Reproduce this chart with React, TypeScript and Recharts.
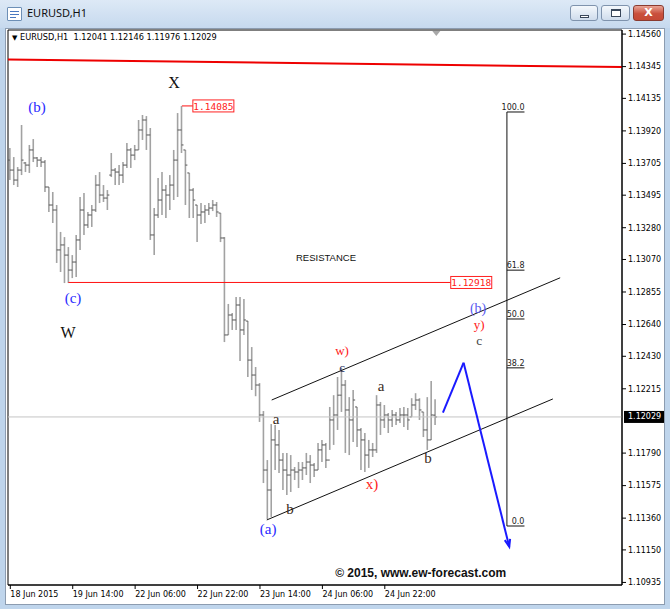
import React from 'react';
import { ComposedChart, Bar, XAxis, YAxis, ReferenceLine, ReferenceDot, ReferenceArea } from 'recharts';

// ---- EURUSD H1 bars (18 Jun 22:00 .. 25 Jun 11:00) ----
const opens = [
  1.13727, 1.13661, 1.13595, 1.13661, 1.13708, 1.13694, 1.13794, 1.13741, 1.13727, 1.13714,
  1.13549, 1.13430, 1.13397, 1.13133, 1.13166, 1.13099, 1.13000, 1.13053, 1.13199, 1.13397,
  1.13298, 1.13364, 1.13397, 1.13562, 1.13496, 1.13476, 1.13628, 1.13661, 1.13648, 1.13628,
  1.13694, 1.13794, 1.13760, 1.13794, 1.13926, 1.13992, 1.13893, 1.13232, 1.13364, 1.13463,
  1.13529, 1.13496, 1.13562, 1.13727, 1.13926, 1.13794, 1.13642, 1.13529, 1.13430, 1.13364,
  1.13384, 1.13397, 1.13410, 1.13430, 1.13377, 1.13212, 1.12571, 1.12703, 1.12670, 1.12769,
  1.12604, 1.12663, 1.12405, 1.12306, 1.12240, 1.12042, 1.11678, 1.11546, 1.11877, 1.11844,
  1.11744, 1.11678, 1.11645, 1.11678, 1.11665, 1.11678, 1.11692, 1.11731, 1.11711, 1.11678,
  1.11811, 1.11844, 1.11744, 1.12009, 1.12042, 1.12173, 1.12240, 1.12075, 1.12009, 1.12095,
  1.11943, 1.11877, 1.11777, 1.11811, 1.11811, 1.12108, 1.12009, 1.12042, 1.12009, 1.12042,
  1.12009, 1.12042, 1.12042, 1.12029, 1.12108, 1.12141, 1.12062, 1.11943, 1.11877, 1.12041,
];
const highs = [
  1.13807, 1.13747, 1.13681, 1.13959, 1.13714, 1.13827, 1.13866, 1.13747, 1.13747, 1.13727,
  1.13549, 1.13516, 1.13430, 1.13252, 1.13218, 1.13152, 1.13099, 1.13232, 1.13483, 1.13509,
  1.13384, 1.13430, 1.13628, 1.13648, 1.13562, 1.13529, 1.13774, 1.13675, 1.13694, 1.13714,
  1.13840, 1.13807, 1.13827, 1.13992, 1.14025, 1.14018, 1.13939, 1.13410, 1.13608, 1.13648,
  1.13562, 1.13628, 1.13794, 1.14038, 1.14085, 1.13794, 1.13642, 1.13542, 1.13430, 1.13443,
  1.13430, 1.13443, 1.13463, 1.13450, 1.13377, 1.13218, 1.12776, 1.12716, 1.12822, 1.12822,
  1.12809, 1.12663, 1.12491, 1.12359, 1.12253, 1.12068, 1.11744, 1.11982, 1.11976, 1.11943,
  1.11791, 1.11791, 1.11777, 1.11698, 1.11731, 1.11731, 1.11791, 1.11777, 1.11725, 1.11857,
  1.11877, 1.11857, 1.12095, 1.12173, 1.12293, 1.12353, 1.12273, 1.12160, 1.12207, 1.12095,
  1.11956, 1.11923, 1.11877, 1.11857, 1.12173, 1.12128, 1.12108, 1.12055, 1.12075, 1.12062,
  1.12088, 1.12095, 1.12088, 1.12153, 1.12186, 1.12153, 1.12062, 1.12160, 1.12267, 1.12146,
];
const lows = [
  1.13595, 1.13562, 1.13549, 1.13628, 1.13648, 1.13642, 1.13714, 1.13681, 1.13681, 1.13516,
  1.13384, 1.13311, 1.13047, 1.12987, 1.12914, 1.12914, 1.12947, 1.12954, 1.13133, 1.13232,
  1.13278, 1.13285, 1.13384, 1.13443, 1.13450, 1.13397, 1.13615, 1.13562, 1.13562, 1.13575,
  1.13675, 1.13675, 1.13727, 1.13794, 1.13860, 1.13794, 1.13199, 1.13099, 1.13344, 1.13364,
  1.13344, 1.13397, 1.13463, 1.13483, 1.13774, 1.13430, 1.13344, 1.13344, 1.13185, 1.13304,
  1.13311, 1.13364, 1.13390, 1.13351, 1.13185, 1.12524, 1.12571, 1.12604, 1.12604, 1.12399,
  1.12571, 1.12293, 1.12207, 1.12166, 1.11996, 1.11592, 1.11354, 1.11368, 1.11678, 1.11659,
  1.11546, 1.11513, 1.11533, 1.11612, 1.11559, 1.11612, 1.11645, 1.11592, 1.11632, 1.11678,
  1.11731, 1.11692, 1.11811, 1.11844, 1.11943, 1.12062, 1.11791, 1.11777, 1.11863, 1.11830,
  1.11678, 1.11665, 1.11692, 1.11764, 1.11791, 1.11910, 1.11956, 1.11923, 1.11963, 1.11976,
  1.11989, 1.11963, 1.11943, 1.12029, 1.12075, 1.12009, 1.11896, 1.11811, 1.11877, 1.11976,
];
const closes = [
  1.13661, 1.13595, 1.13661, 1.13727, 1.13694, 1.13794, 1.13741, 1.13727, 1.13714, 1.13549,
  1.13430, 1.13397, 1.13133, 1.13166, 1.13099, 1.13000, 1.13053, 1.13199, 1.13397, 1.13298,
  1.13364, 1.13397, 1.13562, 1.13496, 1.13476, 1.13496, 1.13661, 1.13648, 1.13628, 1.13694,
  1.13794, 1.13760, 1.13794, 1.13926, 1.13992, 1.13893, 1.13232, 1.13364, 1.13463, 1.13529,
  1.13496, 1.13562, 1.13727, 1.13926, 1.13827, 1.13694, 1.13529, 1.13463, 1.13364, 1.13384,
  1.13397, 1.13410, 1.13430, 1.13384, 1.13212, 1.12571, 1.12703, 1.12670, 1.12769, 1.12604,
  1.12670, 1.12405, 1.12306, 1.12240, 1.12042, 1.11678, 1.11546, 1.11877, 1.11844, 1.11744,
  1.11678, 1.11645, 1.11678, 1.11665, 1.11678, 1.11692, 1.11731, 1.11711, 1.11678, 1.11811,
  1.11844, 1.11744, 1.12009, 1.12042, 1.12173, 1.12240, 1.12075, 1.12009, 1.12141, 1.11943,
  1.11877, 1.11777, 1.11811, 1.11811, 1.12108, 1.12009, 1.12042, 1.12009, 1.12042, 1.12009,
  1.12042, 1.12042, 1.12009, 1.12108, 1.12141, 1.12075, 1.11943, 1.11877, 1.12042, 1.12029,
];

const timeTickBars = [0, 16, 32, 48, 64, 80, 96];
const timeTickLabels = ['18 Jun 2015', '19 Jun 14:00', '22 Jun 06:00', '22 Jun 22:00', '23 Jun 14:00', '24 Jun 06:00', '24 Jun 22:00'];
// the 1.12005 level sits under the current-price marker, so it is not listed
const priceTicks = [1.1456, 1.14345, 1.14135, 1.1392, 1.13705, 1.13495, 1.1328, 1.1307, 1.12855, 1.1264, 1.1243, 1.12215, 1.1179, 1.11575, 1.1136, 1.1115, 1.10935];
const lastPrice = 1.12029;
const headerText = 'EURUSD,H1  1.12041 1.12146 1.11976 1.12029';

// ---- drawn objects (bar index, price) ----
const xHigh = { i: 44, p: 1.14085, labelAt: 46.8 };
const resistance = { from: 14.9, to: 112.9, p: 1.12918 };
const topLine = [{ x: -0.59, y: 1.14392 }, { x: 156.8, y: 1.14342 }];
const channelUpper = [{ x: 67.0, y: 1.12141 }, { x: 140.95, y: 1.12949 }];
const channelLower = [{ x: 65.74, y: 1.11348 }, { x: 139.08, y: 1.12148 }];
const arrowPath = [{ x: 110.9, y: 1.12057 }, { x: 116.2, y: 1.12388 }, { x: 127.9, y: 1.11171 }];
const fib = { x: 127.3, xEnd: 131.8, p0: 1.11308, p100: 1.14045 };
const fibLevels = [0, 38.2, 50, 61.8, 100];
const waveLabels = [
  { i: 6.85, p: 1.14078, t: '(b)', kind: 'blue' },
  { i: 41.97, p: 1.14243, t: 'X', kind: 'big' },
  { i: 16.08, p: 1.12815, t: '(c)', kind: 'blue' },
  { i: 14.79, p: 1.12584, t: 'W', kind: 'big' },
  { i: 85.05, p: 1.12468, t: 'w)', kind: 'redSmall' },
  { i: 85.05, p: 1.12359, t: 'c', kind: 'navy' },
  { i: 68.13, p: 1.12015, t: 'a', kind: 'brown' },
  { i: 71.72, p: 1.11421, t: 'b', kind: 'brown' },
  { i: 66.08, p: 1.11288, t: '(a)', kind: 'blue' },
  { i: 92.74, p: 1.11586, t: 'x)', kind: 'red' },
  { i: 95.05, p: 1.12234, t: 'a', kind: 'brown' },
  { i: 107.1, p: 1.11758, t: 'b', kind: 'brown' },
  { i: 119.92, p: 1.12746, t: '(b)', kind: 'lightblue' },
  { i: 120.18, p: 1.12643, t: 'y)', kind: 'redSmall' },
  { i: 120.18, p: 1.12535, t: 'c', kind: 'gray' },
];
const resistanceText = { i: 80.92, p: 1.1308, t: 'RESISTANCE' };
const copyright = { i: 105.2, p: 1.10997, t: '\u00A9 2015, www.ew-forecast.com' };

const X_MIN = -0.59;
const X_MAX = 156.8;
const Y_MIN = 1.10918;
const Y_MAX = 1.14587;

const labelStyles: Record<string, any> = {
  blue: { fill: '#2a2aff', fontSize: 15 },
  lightblue: { fill: '#5a5af0', fontSize: 14 },
  big: { fill: '#111', fontSize: 16 },
  red: { fill: '#ff2020', fontSize: 15 },
  redSmall: { fill: '#ff2020', fontSize: 13 },
  navy: { fill: '#1d2d5c', fontSize: 13 },
  brown: { fill: '#3a2c1c', fontSize: 15 },
  gray: { fill: '#444', fontSize: 13.5 },
};

const rows = opens.map((o, idx) => ({
  i: idx,
  o,
  h: highs[idx],
  l: lows[idx],
  c: closes[idx],
  range: [lows[idx], highs[idx]],
}));

function OhlcShape(props: any) {
  const { x, y, width, height } = props;
  const d = props.payload && props.payload.h != null ? props.payload : props;
  if (x == null || y == null || isNaN(x) || isNaN(y)) return null;
  const top = Math.min(y, y + height);
  const h = Math.max(Math.abs(height), 1);
  const cx = x + width / 2;
  const span = d.h - d.l || 1e-9;
  const yO = top + ((d.h - d.o) / span) * h;
  const yC = top + ((d.h - d.c) / span) * h;
  return (
    <g>
      <line x1={cx} x2={cx} y1={top} y2={top + h} stroke="#a2a2a2" strokeWidth={1.6} />
      <line x1={cx - 2} x2={cx} y1={yO} y2={yO} stroke="#555" strokeWidth={1} />
      <line x1={cx} x2={cx + 2} y1={yC} y2={yC} stroke="#555" strokeWidth={1} />
    </g>
  );
}

function TimeTick(props: any) {
  const { x, y, payload } = props;
  const idx = timeTickBars.indexOf(payload.value);
  return (
    <g>
      <line x1={x} x2={x} y1={y} y2={y + 4} stroke="#000" strokeWidth={1} />
      <text x={x} y={y + 12} fontSize={8} fontFamily="DejaVu Sans" fill="#000" textAnchor="start">
        {timeTickLabels[idx]}
      </text>
    </g>
  );
}

function ArrowSegment(props: any) {
  const { x1, y1, x2, y2 } = props;
  if (x1 == null) return null;
  const ang = Math.atan2(y2 - y1, x2 - x1);
  const L = 8;
  const a1 = ang + Math.PI - 0.35;
  const a2 = ang + Math.PI + 0.35;
  return (
    <g>
      <line x1={x1} y1={y1} x2={x2} y2={y2} stroke="#1a1aff" strokeWidth={2} />
      <path
        d={`M${x2 + L * Math.cos(a1)},${y2 + L * Math.sin(a1)} L${x2},${y2} L${x2 + L * Math.cos(a2)},${y2 + L * Math.sin(a2)}`}
        stroke="#1a1aff"
        strokeWidth={2}
        fill="none"
      />
    </g>
  );
}

const priceBox = (text: string) => (p: any) => (
  <g>
    <rect x={p.cx} y={p.cy - 6} width={41} height={12} fill="#fff" stroke="#ff2020" strokeWidth={1} />
    <text x={p.cx + 20.5} y={p.cy + 0.5} textAnchor="middle" dominantBaseline="central" fontSize={9.5} fontFamily="DejaVu Sans Mono" fill="#ff2020">
      {text}
    </text>
  </g>
);

export default function App() {
  return (
    <div style={{ position: 'absolute', left: 0, top: 0, width: 670, height: 609, overflow: 'hidden', background: '#bfd5ec' }}>
      {/* title bar */}
      <div style={{ position: 'absolute', left: 0, top: 0, width: 670, height: 28, background: 'linear-gradient(#dde9f6, #c6d9ee)' }} />
      <div style={{ position: 'absolute', left: 7, top: 7, width: 13, height: 12, background: '#fff', border: '1px solid #6d8fb6', borderRadius: 1 }}>
        <div style={{ position: 'absolute', left: 2, top: 3, width: 9, height: 1, background: '#4a78c0' }} />
        <div style={{ position: 'absolute', left: 2, top: 6, width: 9, height: 1, background: '#4a78c0' }} />
        <div style={{ position: 'absolute', left: 2, top: 9, width: 6, height: 1, background: '#4a78c0' }} />
      </div>
      <div style={{ position: 'absolute', left: 27, top: 5, fontFamily: 'Noto Sans', fontSize: 11, color: '#111' }}>EURUSD,H1</div>
      <div style={{ position: 'absolute', left: 570, top: 5, width: 28, height: 16, boxSizing: 'border-box', border: '1px solid #7f93ad', borderRadius: 3, background: 'linear-gradient(#f4f8fc, #cfdcec)' }}>
        <div style={{ position: 'absolute', left: 9, top: 9, width: 9, height: 3, background: '#fff', border: '1px solid #39475a', boxSizing: 'border-box' }} />
      </div>
      <div style={{ position: 'absolute', left: 601, top: 5, width: 29, height: 16, boxSizing: 'border-box', border: '1px solid #7f93ad', borderRadius: 3, background: 'linear-gradient(#f4f8fc, #cfdcec)' }}>
        <div style={{ position: 'absolute', left: 9, top: 3, width: 10, height: 8, border: '1px solid #39475a', borderTopWidth: 2, boxSizing: 'border-box', background: '#fff' }} />
      </div>
      <div style={{ position: 'absolute', left: 633, top: 5, width: 31, height: 16, boxSizing: 'border-box', border: '1px solid #8a3b30', borderRadius: 3, background: 'linear-gradient(#e9a596, #c9503d 55%, #c64a36)', color: '#fff', fontFamily: 'DejaVu Sans', fontWeight: 'bold', fontSize: 11, textAlign: 'center', lineHeight: '14px' }}>
        X
      </div>
      {/* chart panel */}
      <div style={{ position: 'absolute', left: 5, top: 28, width: 660, height: 577, background: '#fff', border: '1px solid #8c9cb0', boxSizing: 'border-box' }} />
      <div style={{ position: 'absolute', left: 0, top: 0 }}>
        <ComposedChart width={670} height={609} data={rows} margin={{ top: 30, right: 0, bottom: 0, left: 8 }} style={{ overflow: 'visible' }}>
          <XAxis
            type="number"
            dataKey="i"
            domain={[X_MIN, X_MAX]}
            allowDataOverflow
            ticks={timeTickBars}
            interval={0}
            height={24}
            axisLine={{ stroke: '#000' }}
            tickLine={false}
            tickSize={0}
            tickMargin={0}
            tick={<TimeTick />}
          />
          <YAxis
            orientation="right"
            type="number"
            domain={[Y_MIN, Y_MAX]}
            allowDataOverflow
            ticks={priceTicks}
            interval={0}
            width={48}
            axisLine={{ stroke: '#000' }}
            tickLine={{ stroke: '#000' }}
            tickSize={4}
            tickMargin={2}
            tick={{ fontSize: 8, fontFamily: 'DejaVu Sans', fill: '#000' }}
            tickFormatter={(v: number) => v.toFixed(5)}
          />
          <ReferenceArea x1={X_MIN} x2={X_MAX} y1={Y_MIN} y2={Y_MAX} fill="none" stroke="#000" strokeWidth={1} ifOverflow="visible" />
          <ReferenceLine y={lastPrice} stroke="#c4c4c4" strokeWidth={1} />
          <Bar dataKey="range" barSize={3} shape={OhlcShape} isAnimationActive={false} />
          <ReferenceLine segment={topLine} stroke="#ee0000" strokeWidth={2} ifOverflow="visible" />
          <ReferenceLine segment={[{ x: resistance.from, y: resistance.p }, { x: resistance.to, y: resistance.p }]} stroke="#ff1010" strokeWidth={1} ifOverflow="visible" />
          <ReferenceDot x={resistance.to} y={resistance.p} r={1} ifOverflow="visible" shape={priceBox(resistance.p.toFixed(5))} />
          <ReferenceLine segment={[{ x: xHigh.i, y: xHigh.p }, { x: xHigh.labelAt, y: xHigh.p }]} stroke="#ff1010" strokeWidth={1} ifOverflow="visible" />
          <ReferenceDot x={xHigh.labelAt} y={xHigh.p} r={1} ifOverflow="visible" shape={priceBox(xHigh.p.toFixed(5))} />
          <ReferenceLine segment={channelUpper} stroke="#111" strokeWidth={1} ifOverflow="visible" />
          <ReferenceLine segment={channelLower} stroke="#111" strokeWidth={1} ifOverflow="visible" />
          <ReferenceLine segment={[{ x: fib.x, y: fib.p0 }, { x: fib.x, y: fib.p100 }]} stroke="#111" strokeWidth={1} ifOverflow="visible" />
          {fibLevels.map((lv) => {
            const p = fib.p0 + (lv / 100) * (fib.p100 - fib.p0);
            return (
              <ReferenceLine key={'fl' + lv} segment={[{ x: fib.x, y: p }, { x: fib.xEnd, y: p }]} stroke="#111" strokeWidth={1} ifOverflow="visible" />
            );
          })}
          {fibLevels.map((lv) => {
            const p = fib.p0 + (lv / 100) * (fib.p100 - fib.p0);
            return (
              <ReferenceDot
                key={'ft' + lv}
                x={fib.xEnd}
                y={p}
                r={1}
                ifOverflow="visible"
                shape={(q: any) => (
                  <text x={q.cx} y={q.cy - 2} textAnchor="end" fontSize={8} fontFamily="DejaVu Sans" fill="#222">
                    {lv.toFixed(1)}
                  </text>
                )}
              />
            );
          })}
          <ReferenceLine segment={[arrowPath[0], arrowPath[1]]} stroke="#1a1aff" strokeWidth={2} ifOverflow="visible" />
          <ReferenceLine segment={[arrowPath[1], arrowPath[2]]} ifOverflow="visible" shape={ArrowSegment} />
          {waveLabels.map((w, k) => (
            <ReferenceDot
              key={'w' + k}
              x={w.i}
              y={w.p}
              r={1}
              ifOverflow="visible"
              shape={(q: any) => (
                <text x={q.cx} y={q.cy} textAnchor="middle" dominantBaseline="central" fontFamily="Liberation Serif" {...labelStyles[w.kind]}>
                  {w.t}
                </text>
              )}
            />
          ))}
          <ReferenceDot
            x={resistanceText.i}
            y={resistanceText.p}
            r={1}
            ifOverflow="visible"
            shape={(q: any) => (
              <text x={q.cx} y={q.cy} textAnchor="middle" dominantBaseline="central" fontFamily="Liberation Sans" fontSize={9.5} fill="#111">
                {resistanceText.t}
              </text>
            )}
          />
          <ReferenceDot
            x={copyright.i}
            y={copyright.p}
            r={1}
            ifOverflow="visible"
            shape={(q: any) => (
              <text x={q.cx} y={q.cy} textAnchor="middle" dominantBaseline="central" fontFamily="Liberation Sans" fontWeight="bold" fontSize={12} fill="#111">
                {copyright.t}
              </text>
            )}
          />
          <ReferenceDot
            x={109.2}
            y={Y_MAX}
            r={1}
            ifOverflow="visible"
            shape={(q: any) => <path d={`M${q.cx - 4},${q.cy + 1} L${q.cx + 4},${q.cy + 1} L${q.cx},${q.cy + 6} Z`} fill="#a8a8a8" />}
          />
          <ReferenceDot
            x={X_MAX}
            y={lastPrice}
            r={1}
            ifOverflow="visible"
            shape={(q: any) => (
              <g>
                <rect x={q.cx + 2} y={q.cy - 6} width={40} height={12} fill="#000" />
                <text x={q.cx + 6} y={q.cy} dominantBaseline="central" fontSize={8} fontFamily="DejaVu Sans" fill="#fff">
                  {lastPrice.toFixed(5)}
                </text>
              </g>
            )}
          />
        </ComposedChart>
      </div>
      <div style={{ position: 'absolute', left: 12, top: 31, fontFamily: 'DejaVu Sans', fontSize: 8.2, color: '#000', whiteSpace: 'pre', lineHeight: '12px' }}>
        <span style={{ fontSize: 7 }}>{'\u25BC'}</span> {headerText}
      </div>
    </div>
  );
}
